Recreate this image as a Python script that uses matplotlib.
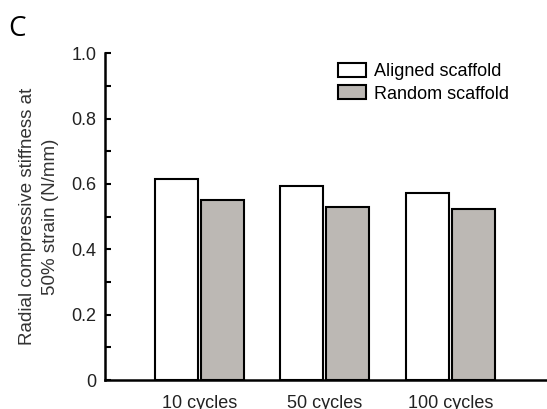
import numpy as np
import matplotlib
matplotlib.use("Agg")
import matplotlib.pyplot as plt
from matplotlib.ticker import MultipleLocator

plt.rcParams['font.family'] = ['Liberation Sans', 'DejaVu Sans']

categories = ["10 cycles", "50 cycles", "100 cycles"]
aligned = [0.615, 0.594, 0.572]
random_sc = [0.552, 0.530, 0.523]
series_names = ["Aligned scaffold", "Random scaffold"]
ytick_vals = [0, 0.2, 0.4, 0.6, 0.8, 1.0]
ytick_labels = ["0", "0.2", "0.4", "0.6", "0.8", "1.0"]

fig = plt.figure(figsize=(5.47, 4.09), dpi=100)
ax = fig.add_axes([0.192, 0.0709, 0.806, 0.7988])

x = np.arange(len(categories))
w = 0.34
off = 0.183
ax.bar(x - off, aligned, w, color="white", edgecolor="black", linewidth=1.5,
       label=series_names[0])
ax.bar(x + off, random_sc, w, color="#bcb8b4", edgecolor="black", linewidth=1.5,
       label=series_names[1])

ax.set_xlim(-0.75, 2.76)
ax.set_ylim(0, 1.0)
ax.set_xticks(x)
ax.set_xticklabels(categories, fontsize=13, color="#222222")
ax.set_yticks(ytick_vals)
ax.set_yticklabels(ytick_labels, fontsize=13, color="#222222")
ax.yaxis.set_minor_locator(MultipleLocator(0.1))
ax.tick_params(axis='y', which='both', direction='in', length=4, width=1.5, pad=6)
ax.tick_params(axis='x', length=0, pad=11)

for s in ["top", "right"]:
    ax.spines[s].set_visible(False)
for s in ["left", "bottom"]:
    ax.spines[s].set_linewidth(1.8)

ax.set_ylabel("Radial compressive stiffness at\n50% strain (N/mm)", fontsize=13.5,
              labelpad=9, color="#333333", linespacing=1.45)

ax.legend(loc="upper left", bbox_to_anchor=(338 / 547, 1 - 63 / 409),
          bbox_transform=fig.transFigure, frameon=False, fontsize=13,
          handlelength=1.55, handleheight=0.78, handletextpad=0.45,
          labelspacing=0.3, borderpad=0, borderaxespad=0)

fig.text(8 / 547, 1 - 36 / 409, "C", fontsize=20, family="Open Sans")

fig.savefig("out.png", dpi=100)
